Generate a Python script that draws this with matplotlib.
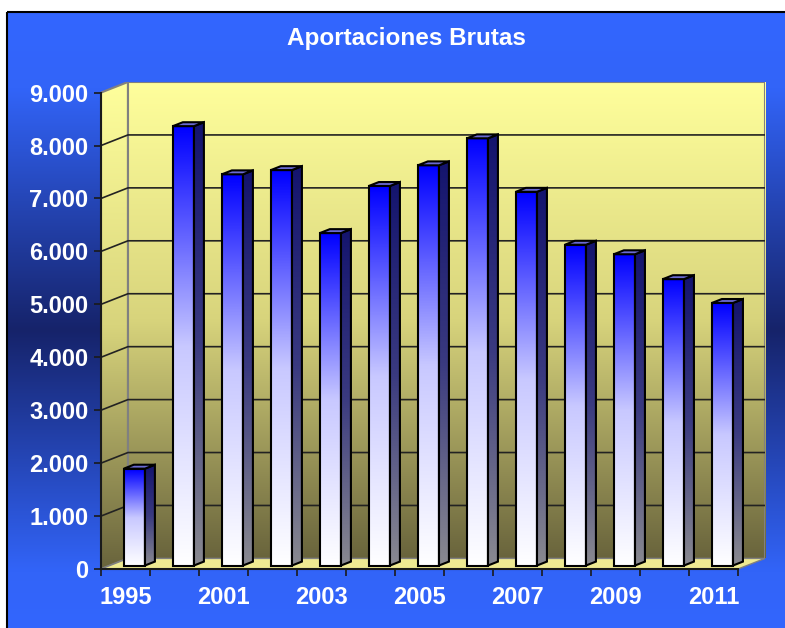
import numpy as np
import matplotlib.pyplot as plt
from matplotlib.patches import Rectangle, Polygon
from matplotlib.colors import LinearSegmentedColormap
from matplotlib.ticker import FuncFormatter

# Datos
anios = ['1995', '2000', '2001', '2002', '2003', '2004', '2005',
         '2006', '2007', '2008', '2009', '2010', '2011']
valores = [1830, 8300, 7390, 7470, 6280, 7170, 7560, 8070, 7060, 6060, 5880, 5410, 4960]
ticks_y = [0, 1000, 2000, 3000, 4000, 5000, 6000, 7000, 8000, 9000]

plt.rcParams['font.family'] = ['Liberation Sans', 'DejaVu Sans']

W, H = 785, 628
fig = plt.figure(figsize=(W / 100, H / 100), dpi=100)
fig.patch.set_facecolor('white')

# Fondo azul con degradado
bg = fig.add_axes([0, 0, 1, 1], zorder=0)
cmap_fondo = LinearSegmentedColormap.from_list(
    'fondo', [(0, '#3366ff'), (0.12, '#3264f8'), (0.5, '#16236a'),
              (0.88, '#3264f8'), (1, '#3366ff')])
grad = np.linspace(0, 1, 256).reshape(-1, 1)
bg.imshow(grad, cmap=cmap_fondo, extent=[7, W + 20, H + 20, 12], aspect='auto')
bg.add_patch(Rectangle((7, 12), W + 20, H + 20, fill=False, ec='black', lw=1.5))
bg.set_xlim(0, W)
bg.set_ylim(H, 0)
bg.axis('off')

fig.text(406 / W, 1 - 38 / H, 'Aportaciones Brutas', ha='center', va='center',
         color='white', fontsize=17.5, fontweight='bold')

# Ejes con profundidad simulada
DX, DY = 0.55, 200
n = len(valores)
ax = fig.add_axes([101 / W, (H - 569) / H, (765 - 101) / W, (569 - 82) / H], zorder=1)
ax.patch.set_visible(False)

cmap_pared = LinearSegmentedColormap.from_list(
    'pared', [(0, '#69643c'), (0.5, '#d8d47c'), (1, '#ffff9c')])
g = np.linspace(0, 1, 256).reshape(-1, 1)

# pared del fondo
ax.imshow(g, cmap=cmap_pared, origin='lower', aspect='auto',
          extent=[DX, n + DX, DY, 9000 + DY], zorder=0)
# pared lateral
lateral = Polygon([(0, 0), (DX, DY), (DX, 9000 + DY), (0, 9000)],
                  closed=True, fc='none', ec='#808080', lw=1.5, zorder=1)
ax.add_patch(lateral)
im = ax.imshow(g, cmap=cmap_pared, origin='lower', aspect='auto',
               extent=[0, DX, 0, 9000 + DY], zorder=0)
im.set_clip_path(lateral)
# suelo
ax.add_patch(Polygon([(0, 0), (n, 0), (n + DX, DY), (DX, DY)], closed=True,
                     fc='#efea92', ec='#808080', lw=1, zorder=1))
# borde de la pared
ax.plot([DX, DX, n + DX, n + DX], [DY, 9000 + DY, 9000 + DY, DY],
        color='#808080', lw=1.5, zorder=1)

# lineas de division
for v in ticks_y[1:-1]:
    ax.plot([0, DX, n + DX], [v, v + DY, v + DY], color='#222222', lw=1.2, zorder=1)

# Barras
cmap_frente = LinearSegmentedColormap.from_list('frente', ['#ffffff', '#c8c8ff', '#0000ff'])
cmap_lado = LinearSegmentedColormap.from_list('lado', ['#8a8a90', '#3a3a80', '#14146e'])
ancho = 0.43
f0, prof = 0.33, 0.37
for i, v in enumerate(valores):
    x0 = i + 0.5 - ancho / 2 + f0 * DX
    x1 = x0 + ancho
    yb = f0 * DY
    ddx, ddy = prof * DX, prof * DY

    lado = Polygon([(x1, yb), (x1 + ddx, yb + ddy), (x1 + ddx, yb + v + ddy), (x1, yb + v)],
                   closed=True, fc='none', ec='black', lw=1.5, zorder=4)
    ax.add_patch(lado)
    im = ax.imshow(g, cmap=cmap_lado, origin='lower', aspect='auto',
                   extent=[x1, x1 + ddx, yb, yb + v + ddy], zorder=3)
    im.set_clip_path(lado)

    frente = Rectangle((x0, yb), ancho, v, fc='none', ec='black', lw=1.5, zorder=4)
    ax.add_patch(frente)
    im = ax.imshow(g, cmap=cmap_frente, origin='lower', aspect='auto',
                   extent=[x0, x1, yb, yb + v], zorder=3)
    im.set_clip_path(frente)

    ax.add_patch(Polygon([(x0, yb + v), (x1, yb + v), (x1 + ddx, yb + v + ddy),
                          (x0 + ddx, yb + v + ddy)], closed=True,
                         fc='#6a6ad2', ec='black', lw=1.5, zorder=4))

ax.set_xlim(0, n + DX)
ax.set_ylim(0, 9000 + DY)

for s in ['top', 'right']:
    ax.spines[s].set_visible(False)
ax.spines['left'].set_bounds(0, 9000)
ax.spines['bottom'].set_bounds(0, n)
for s in ['left', 'bottom']:
    ax.spines[s].set_color('#1a1a1a')
    ax.spines[s].set_linewidth(1.5)
    ax.spines[s].set_zorder(5)

ax.set_yticks(ticks_y)
ax.yaxis.set_major_formatter(FuncFormatter(lambda v, p: f'{int(v):,}'.replace(',', '.')))
ax.tick_params(axis='y', length=5, width=1.2, color='#1a1a1a', pad=4,
               labelcolor='white', labelsize=17)
for t in ax.get_yticklabels():
    t.set_fontweight('bold')

ax.set_xticks(range(n + 1))
ax.set_xticklabels([])
ax.tick_params(axis='x', which='major', length=5, width=1.2, color='#1a1a1a')
ax.set_xticks([i + 0.5 for i in range(0, n, 2)], minor=True)
ax.set_xticklabels(anios[::2], minor=True)
ax.tick_params(axis='x', which='minor', length=0, pad=12,
               labelcolor='white', labelsize=17)
for t in ax.get_xticklabels(minor=True):
    t.set_fontweight('bold')

fig.savefig('out.png', dpi=100)
